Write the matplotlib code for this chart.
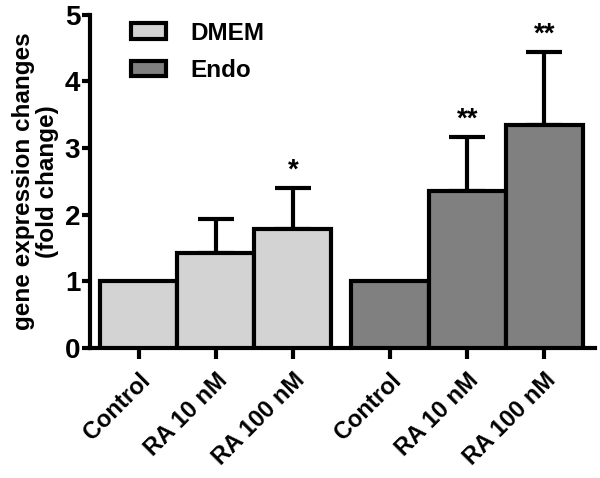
import numpy as np
import matplotlib.pyplot as plt
from matplotlib.patches import Patch

plt.rcParams['font.family'] = ['Liberation Sans', 'DejaVu Sans']
plt.rcParams['font.weight'] = 'bold'

# data
labels = ["Control", "RA 10 nM", "RA 100 nM", "Control", "RA 10 nM", "RA 100 nM"]
groups = ["DMEM", "DMEM", "DMEM", "Endo", "Endo", "Endo"]
values = [1.0, 1.43, 1.79, 1.0, 2.35, 3.34]
errors = [0.0, 0.50, 0.61, 0.0, 0.81, 1.10]
stars = ["", "", "*", "", "**", "**"]

colors = {"DMEM": "#d3d3d3", "Endo": "#808080"}

x = np.array([0, 1, 2, 3.26, 4.26, 5.26])

fig = plt.figure(figsize=(6, 4.78), dpi=100)
ax = fig.add_axes([0.15, 0.272, 0.842, 0.697])

bar_colors = [colors[g] for g in groups]
ax.bar(x, values, width=1.0, color=bar_colors, edgecolor="black", linewidth=3, zorder=3)

for xi, v, e in zip(x, values, errors):
    if e > 0:
        ax.errorbar(xi, v, yerr=[[0], [e]], fmt="none", ecolor="black",
                    elinewidth=3, capsize=13, capthick=3, zorder=2)

for xi, v, e, s in zip(x, values, errors, stars):
    if s:
        ax.text(xi, v + e + 0.07, s, ha="center", va="bottom", fontsize=20, fontweight="bold")

ax.set_xlim(-0.63, 5.92)
ax.set_ylim(0, 5)
ax.set_yticks([0, 1, 2, 3, 4, 5])
ax.set_xticks(x)
ax.set_xticklabels(labels, rotation=45, ha="right", rotation_mode="anchor", fontsize=17, fontweight="bold")
ax.tick_params(axis="y", labelsize=20, width=3, length=6, direction="out", pad=1)
ax.tick_params(axis="x", width=3, length=8, direction="out", pad=7)

for side in ["top", "right"]:
    ax.spines[side].set_visible(False)
for side in ["left", "bottom"]:
    ax.spines[side].set_linewidth(3)

ax.set_ylabel("gene expression changes\n(fold change)", fontsize=17.5, fontweight="bold",
              labelpad=4, linespacing=1.05)

handles = [Patch(facecolor=colors["DMEM"], edgecolor="black", linewidth=3, label="DMEM"),
           Patch(facecolor=colors["Endo"], edgecolor="black", linewidth=3, label="Endo")]
ax.legend(handles=handles, loc="upper left", bbox_to_anchor=(0.038, 1.045), frameon=False,
          fontsize=17.5, handlelength=1.45, handleheight=0.6, labelspacing=0.6, handletextpad=1.0)

fig.savefig("out.png", dpi=100)
